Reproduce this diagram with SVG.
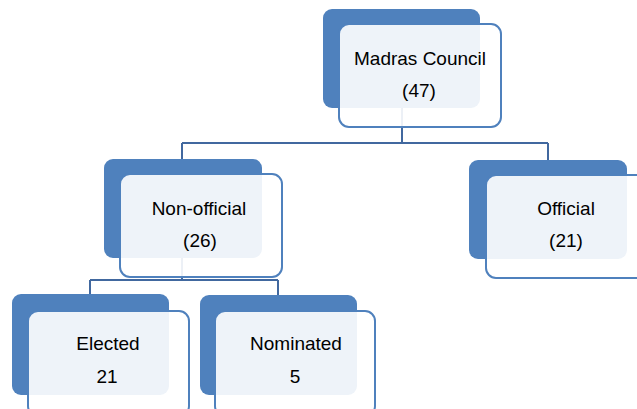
<svg xmlns="http://www.w3.org/2000/svg" width="637" height="409" viewBox="0 0 637 409">
<style>
.dark{fill:#4F81BD}
.card{fill:#FFFFFF;fill-opacity:0.9;stroke:#4F81BD;stroke-width:2}
.conn{fill:none;stroke:#41689F;stroke-width:2}
text{font-family:"Liberation Sans",Arial,sans-serif;font-size:19px;fill:#000;text-anchor:middle}
</style>
<rect width="637" height="409" fill="#FFFFFF"/>
<g id="connectors">
<path class="conn" d="M402,108 V143 M182,143 H548 M182,143 V159 M548,143 V160"/>
<path class="conn" d="M182,258 V280 M90,280 H278 M90,280 V294 M278,280 V295"/>
</g>
<g id="madras">
<rect class="dark" x="323" y="9" width="157" height="99" rx="9"/>
<rect class="card" x="339" y="24" width="162" height="103" rx="10"/>
<text x="420" y="65">Madras Council</text>
<text x="419" y="97">(47)</text>
</g>
<g id="nonofficial">
<rect class="dark" x="104" y="159" width="158" height="99" rx="9"/>
<rect class="card" x="120" y="174" width="162" height="103" rx="10"/>
<text x="199" y="215">Non-official</text>
<text x="200" y="247">(26)</text>
</g>
<g id="official">
<rect class="dark" x="469" y="160" width="158" height="99" rx="9"/>
<rect class="card" x="486" y="175" width="162" height="103" rx="10"/>
<text x="566" y="215">Official</text>
<text x="566" y="247">(21)</text>
</g>
<g id="elected">
<rect class="dark" x="12" y="294" width="157" height="101" rx="9"/>
<rect class="card" x="28" y="311" width="161" height="105" rx="10"/>
<text x="108" y="350">Elected</text>
<text x="107" y="383">21</text>
</g>
<g id="nominated">
<rect class="dark" x="200" y="295" width="157" height="100" rx="9"/>
<rect class="card" x="215" y="311" width="160" height="105" rx="10"/>
<text x="296" y="350">Nominated</text>
<text x="295" y="383">5</text>
</g>
</svg>
